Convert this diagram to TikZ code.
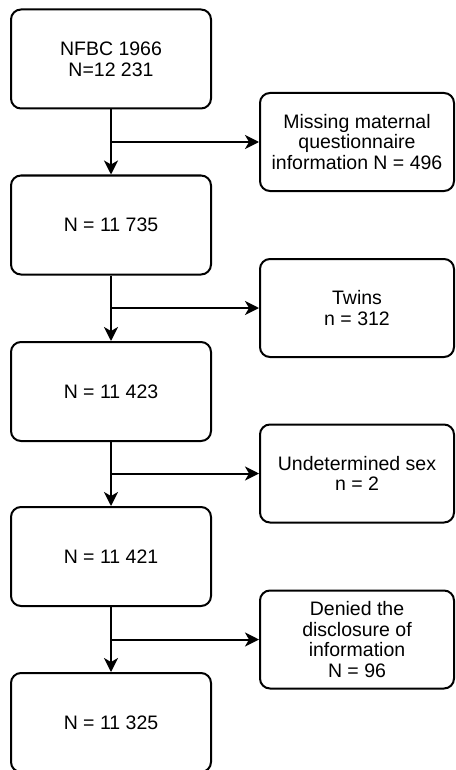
\documentclass[tikz,border=0pt]{standalone}
\usepackage{fontspec}
\setmainfont{Liberation Sans}
\usetikzlibrary{arrows.meta}
\begin{document}
\begin{tikzpicture}[x=1pt,y=-1pt,
  box/.style={draw, line width=2pt, rounded corners=10pt, align=center,
    font=\fontsize{19.5pt}{20.8pt}\selectfont, inner sep=0pt},
  leftbox/.style={box, minimum width=200pt, minimum height=99pt},
  rightbox/.style={box, minimum width=194pt, minimum height=98pt},
  arr/.style={line width=2pt, -{Stealth[length=14pt,width=14pt,inset=4pt]}}]
\useasboundingbox (0,0) rectangle (455,770);
\node[leftbox] (b1) at (111,59) {NFBC 1966\\N=12 231};
\node[leftbox] (b2) at (111,225) {N = 11 735};
\node[leftbox] (b3) at (111,391.5) {N = 11 423};
\node[leftbox] (b4) at (111,556.5) {N = 11 421};
\node[leftbox] (b5) at (111,722.5) {N = 11 325};
\node[rightbox] (r1) at (357,142) {Missing maternal\\questionnaire\\information N = 496};
\node[rightbox] (r2) at (357,308) {Twins\\n = 312};
\node[rightbox] (r3) at (357,473.5) {Undetermined sex\\n = 2};
\node[rightbox] (r4) at (357,639.5) {Denied the\\disclosure of\\information\\N = 96};
\draw[arr] (b1) -- (b2);
\draw[arr] (b2) -- (b3);
\draw[arr] (b3) -- (b4);
\draw[arr] (b4) -- (b5);
\draw[arr] (b1.south |- r1.west) -- (r1.west);
\draw[arr] (b2.south |- r2.west) -- (r2.west);
\draw[arr] (b3.south |- r3.west) -- (r3.west);
\draw[arr] (b4.south |- r4.west) -- (r4.west);
\end{tikzpicture}
\end{document}
